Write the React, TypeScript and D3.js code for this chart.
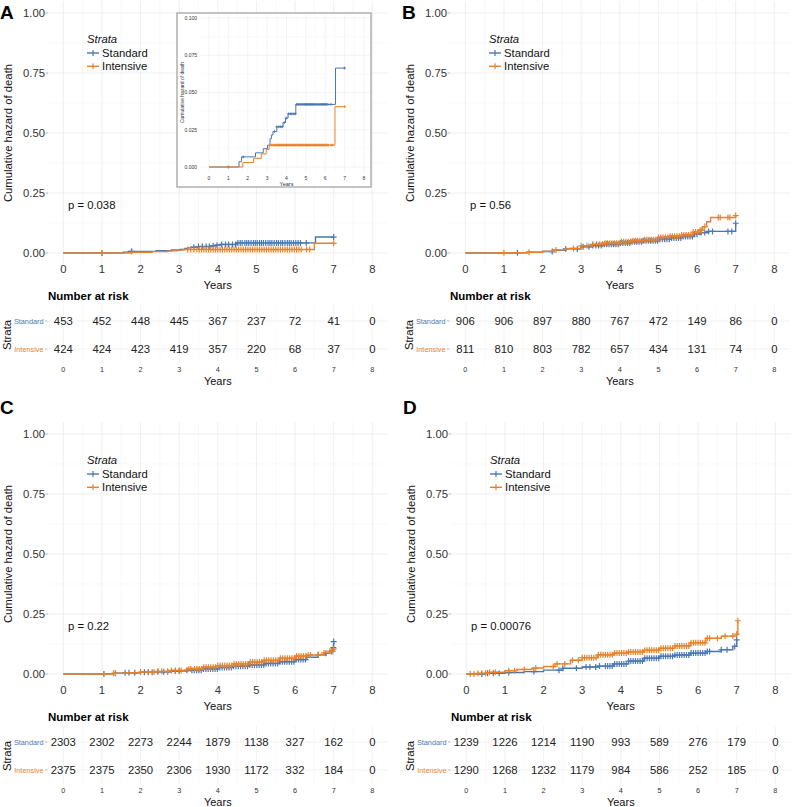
import React from "react";
import * as d3 from "d3";

const FONT = "'Liberation Sans', Arial, Helvetica, sans-serif";
const BLUE = "#4A77B4";
const ORANGE = "#E8822A";

const yearTicks = [0, 1, 2, 3, 4, 5, 6, 7, 8];
const yTicks = [0, 0.25, 0.5, 0.75, 1];
const insetYTicks = [0, 0.025, 0.05, 0.075, 0.1];
const strataNames = ["Standard", "Intensive"];
const panelLetters = ["A", "B", "C", "D"];
const pValues = ["p = 0.038", "p = 0.56", "p = 0.22", "p = 0.00076"];

// Panel A
const aStdTime = [0, 1.55, 1.68, 2.4, 2.8, 3.02, 3.15, 3.22, 3.3, 3.5, 3.82, 3.95, 4.08, 4.48, 6.53, 7.0];
const aStdHaz = [0, 0.0035, 0.0068, 0.0095, 0.0123, 0.0146, 0.019, 0.0215, 0.0238, 0.027, 0.0298, 0.0328, 0.0357, 0.042, 0.0664, 0.0664];
const aStdCensor = [1.0, 1.77, 3.38, 3.5, 3.6, 3.7, 3.78, 3.88, 3.98, 4.1, 4.2, 4.28, 4.38, 4.46, 4.52, 4.58, 4.63, 4.7, 4.75, 4.8, 4.86, 4.92, 4.97, 5.02, 5.08, 5.13, 5.18, 5.24, 5.3, 5.35, 5.4, 5.46, 5.52, 5.57, 5.63, 5.68, 5.74, 5.8, 5.85, 5.9, 5.96, 6.02, 6.08, 6.14, 6.29, 7.0];
const aIntTime = [0, 1.75, 2.3, 2.7, 2.95, 3.1, 6.5, 7.0];
const aIntHaz = [0, 0.003, 0.0058, 0.0088, 0.0118, 0.0147, 0.0405, 0.0405];
const aIntCensor = [1.0, 3.22, 3.3, 3.38, 3.46, 3.52, 3.58, 3.64, 3.7, 3.76, 3.82, 3.88, 3.94, 4.0, 4.06, 4.12, 4.18, 4.24, 4.3, 4.36, 4.42, 4.48, 4.54, 4.6, 4.66, 4.72, 4.78, 4.84, 4.9, 4.96, 5.02, 5.08, 5.14, 5.2, 5.26, 5.32, 5.38, 5.44, 5.5, 5.56, 5.62, 5.68, 5.74, 5.8, 5.86, 5.92, 5.98, 6.04, 6.1, 6.16, 6.3, 6.38, 7.0];
const aStdRisk = [453, 452, 448, 445, 367, 237, 72, 41, 0];
const aIntRisk = [424, 424, 423, 419, 357, 220, 68, 37, 0];

// Panel B
const bStdTime = [0, 1.3, 1.6, 2.0, 2.3, 2.6, 3.0, 3.3, 3.6, 4.0, 4.3, 4.6, 5.0, 5.3, 5.6, 5.9, 6.1, 6.3, 7.0];
const bStdHaz = [0, 0.001, 0.003, 0.006, 0.011, 0.017, 0.026, 0.031, 0.036, 0.042, 0.047, 0.051, 0.057, 0.063, 0.069, 0.078, 0.085, 0.09, 0.124];
const bStdCensor = [1.35, 2.25, 2.6, 2.9, 3.05, 3.2, 3.3, 3.38, 3.45, 3.52, 3.6, 3.66, 3.72, 3.78, 3.84, 3.9, 3.96, 4.02, 4.08, 4.14, 4.2, 4.26, 4.32, 4.38, 4.44, 4.5, 4.56, 4.62, 4.68, 4.74, 4.8, 4.86, 4.92, 4.98, 5.04, 5.1, 5.16, 5.22, 5.28, 5.34, 5.4, 5.46, 5.52, 5.58, 5.64, 5.7, 5.76, 5.82, 5.88, 5.94, 6.0, 6.1, 6.2, 6.3, 6.4, 6.8, 6.9, 7.0];
const bIntTime = [0, 1.0, 1.6, 2.0, 2.3, 2.6, 3.0, 3.3, 3.6, 4.0, 4.3, 4.6, 5.0, 5.3, 5.6, 5.9, 6.05, 6.15, 6.25, 6.35, 7.0];
const bIntHaz = [0, 0.001, 0.003, 0.007, 0.013, 0.019, 0.03, 0.036, 0.041, 0.047, 0.051, 0.055, 0.065, 0.07, 0.075, 0.087, 0.095, 0.11, 0.13, 0.148, 0.156];
const bIntCensor = [1.0, 1.65, 2.35, 2.8, 3.0, 3.15, 3.3, 3.4, 3.48, 3.55, 3.62, 3.68, 3.74, 3.8, 3.86, 3.92, 3.98, 4.04, 4.1, 4.16, 4.22, 4.28, 4.34, 4.4, 4.46, 4.52, 4.58, 4.64, 4.7, 4.76, 4.82, 4.88, 4.94, 5.0, 5.06, 5.12, 5.18, 5.24, 5.3, 5.36, 5.42, 5.48, 5.54, 5.6, 5.66, 5.72, 5.78, 5.84, 5.9, 5.96, 6.02, 6.08, 6.12, 6.2, 6.55, 6.6, 6.8, 6.85, 7.0];
const bStdRisk = [906, 906, 897, 880, 767, 472, 149, 86, 0];
const bIntRisk = [811, 810, 803, 782, 657, 434, 131, 74, 0];

// Panel C
const cStdTime = [0, 1.1, 1.3, 1.6, 2.0, 2.4, 2.8, 3.2, 3.6, 4.0, 4.4, 4.8, 5.2, 5.6, 6.0, 6.3, 6.6, 6.8, 6.9, 6.97, 7.0];
const cStdHaz = [0, 0.001, 0.003, 0.005, 0.007, 0.009, 0.012, 0.016, 0.021, 0.027, 0.032, 0.038, 0.044, 0.051, 0.06, 0.07, 0.08, 0.086, 0.094, 0.11, 0.135];
const cStdCensor = [1.05, 1.35, 1.6, 1.7, 1.85, 2.1, 2.2, 2.3, 2.45, 2.6, 2.7, 2.9, 3.0, 3.2, 3.33, 3.39, 3.45, 3.51, 3.57, 3.63, 3.69, 3.75, 3.81, 3.87, 3.93, 3.99, 4.05, 4.11, 4.17, 4.23, 4.29, 4.35, 4.41, 4.47, 4.53, 4.59, 4.65, 4.71, 4.77, 4.83, 4.89, 4.95, 5.01, 5.07, 5.13, 5.19, 5.25, 5.31, 5.37, 5.43, 5.49, 5.55, 5.61, 5.67, 5.73, 5.79, 5.85, 5.91, 5.97, 6.03, 6.09, 6.15, 6.21, 6.27, 6.6, 6.8, 6.95, 6.99, 7.0];
const cIntTime = [0, 1.3, 1.6, 2.0, 2.4, 2.8, 3.2, 3.6, 4.0, 4.4, 4.8, 5.2, 5.6, 6.0, 6.3, 6.6, 6.75, 6.9, 7.0];
const cIntHaz = [0, 0.003, 0.005, 0.008, 0.011, 0.015, 0.021, 0.028, 0.035, 0.042, 0.05, 0.057, 0.066, 0.075, 0.079, 0.081, 0.088, 0.095, 0.104];
const cIntCensor = [1.05, 1.3, 1.35, 2.0, 2.2, 2.35, 2.45, 2.55, 2.7, 2.8, 2.9, 3.0, 3.05, 3.25, 3.3, 3.4, 3.46, 3.52, 3.58, 3.64, 3.7, 3.76, 3.82, 3.88, 3.94, 4.0, 4.06, 4.12, 4.18, 4.24, 4.3, 4.36, 4.42, 4.48, 4.54, 4.6, 4.66, 4.72, 4.78, 4.84, 4.9, 4.96, 5.02, 5.08, 5.14, 5.2, 5.26, 5.32, 5.38, 5.44, 5.5, 5.56, 5.62, 5.68, 5.74, 5.8, 5.86, 5.92, 5.98, 6.04, 6.1, 6.16, 6.22, 6.28, 6.34, 6.4, 6.6, 6.75, 6.9, 6.98, 7.0];
const cStdRisk = [2303, 2302, 2273, 2244, 1879, 1138, 327, 162, 0];
const cIntRisk = [2375, 2375, 2350, 2306, 1930, 1172, 332, 184, 0];

// Panel D
const dStdTime = [0, 0.5, 1.0, 1.5, 2.0, 2.5, 3.0, 3.4, 3.8, 4.2, 4.6, 5.0, 5.4, 5.8, 6.2, 6.6, 6.9, 7.0];
const dStdHaz = [0, 0.003, 0.006, 0.01, 0.016, 0.024, 0.029, 0.033, 0.042, 0.054, 0.066, 0.074, 0.079, 0.087, 0.094, 0.101, 0.115, 0.142];
const dStdCensor = [0.4, 0.55, 0.7, 0.85, 1.1, 1.75, 2.4, 2.5, 2.85, 3.1, 3.2, 3.35, 3.45, 3.6, 3.66, 3.72, 3.78, 3.84, 3.9, 3.96, 4.02, 4.08, 4.14, 4.2, 4.26, 4.32, 4.38, 4.44, 4.5, 4.56, 4.62, 4.68, 4.74, 4.8, 4.86, 4.92, 4.98, 5.04, 5.1, 5.16, 5.22, 5.28, 5.34, 5.4, 5.46, 5.52, 5.58, 5.64, 5.7, 5.76, 5.82, 5.88, 5.94, 6.0, 6.06, 6.12, 6.18, 6.24, 6.3, 6.6, 6.75, 6.95, 7.0];
const dIntTime = [0, 0.3, 0.6, 1.0, 1.3, 1.7, 2.0, 2.3, 2.7, 3.0, 3.4, 3.8, 4.2, 4.6, 5.0, 5.4, 5.8, 6.2, 6.6, 7.0, 7.03];
const dIntHaz = [0, 0.003, 0.007, 0.014, 0.019, 0.025, 0.031, 0.042, 0.057, 0.068, 0.08, 0.087, 0.092, 0.099, 0.107, 0.117, 0.13, 0.149, 0.158, 0.166, 0.222];
const dIntCensor = [0.1, 0.2, 0.3, 0.4, 0.5, 0.6, 0.75, 1.1, 1.25, 1.5, 1.8, 2.25, 2.35, 2.55, 2.75, 2.9, 3.0, 3.06, 3.12, 3.18, 3.24, 3.3, 3.36, 3.42, 3.48, 3.54, 3.6, 3.66, 3.72, 3.78, 3.84, 3.9, 3.96, 4.02, 4.08, 4.14, 4.2, 4.26, 4.32, 4.38, 4.44, 4.5, 4.56, 4.62, 4.68, 4.74, 4.8, 4.86, 4.92, 4.98, 5.04, 5.1, 5.16, 5.22, 5.28, 5.34, 5.4, 5.46, 5.52, 5.58, 5.64, 5.7, 5.76, 5.82, 5.88, 5.94, 6.0, 6.06, 6.12, 6.18, 6.24, 6.3, 6.5, 6.7, 6.9, 7.0, 7.03];
const dStdRisk = [1239, 1226, 1214, 1190, 993, 589, 276, 179, 0];
const dIntRisk = [1290, 1268, 1232, 1179, 984, 586, 252, 185, 0];

type Series = { time: number[]; haz: number[]; censor: number[]; color: string };

const panels = [
  { ox: 0, oy: 0, letterY: 19, letter: panelLetters[0], p: pValues[0], inset: true,
    series: [
      { time: aStdTime, haz: aStdHaz, censor: aStdCensor, color: BLUE },
      { time: aIntTime, haz: aIntHaz, censor: aIntCensor, color: ORANGE },
    ], risk: [aStdRisk, aIntRisk] },
  { ox: 402, oy: 0, letterY: 19, letter: panelLetters[1], p: pValues[1], inset: false,
    series: [
      { time: bStdTime, haz: bStdHaz, censor: bStdCensor, color: BLUE },
      { time: bIntTime, haz: bIntHaz, censor: bIntCensor, color: ORANGE },
    ], risk: [bStdRisk, bIntRisk] },
  { ox: 0, oy: 421, letterY: 414, letter: panelLetters[2], p: pValues[2], inset: false,
    series: [
      { time: cStdTime, haz: cStdHaz, censor: cStdCensor, color: BLUE },
      { time: cIntTime, haz: cIntHaz, censor: cIntCensor, color: ORANGE },
    ], risk: [cStdRisk, cIntRisk] },
  { ox: 403, oy: 421, letterY: 414, letter: panelLetters[3], p: pValues[3], inset: false,
    series: [
      { time: dStdTime, haz: dStdHaz, censor: dStdCensor, color: BLUE },
      { time: dIntTime, haz: dIntHaz, censor: dIntCensor, color: ORANGE },
    ], risk: [dStdRisk, dIntRisk] },
];

function hazAt(s: Series, t: number) {
  const i = Math.max(0, d3.bisectRight(s.time, t) - 1);
  return s.haz[i];
}

function Curves({ series, x, y, mark, sw }: any) {
  const line = d3
    .line<[number, number]>()
    .curve(d3.curveStepAfter)
    .x((d) => x(d[0]))
    .y((d) => y(d[1]));
  return (
    <g>
      {series.map((s: Series, k: number) => {
        const pts = d3.zip(s.time, s.haz) as [number, number][];
        const marks = s.censor
          .map((t) => {
            const cx = x(t);
            const cy = y(hazAt(s, t));
            return `M${cx - mark},${cy}h${2 * mark}M${cx},${cy - mark}v${2 * mark}`;
          })
          .join("");
        return (
          <g key={k}>
            <path d={line(pts) || ""} fill="none" stroke={s.color} strokeWidth={sw} />
            <path d={marks} fill="none" stroke={s.color} strokeWidth={sw * 0.85} />
          </g>
        );
      })}
    </g>
  );
}

function Inset({ series }: any) {
  const x = d3.scaleLinear().domain([0, 8]).range([209, 364]);
  const y = d3.scaleLinear().domain([0, 0.1]).range([167, 18]);
  const gx0 = 201, gx1 = 370, gy0 = 15, gy1 = 172;
  const minorX = d3.range(0, 8, 1).map((v) => v + 0.5);
  const minorY = [0.0125, 0.0375, 0.0625, 0.0875];
  return (
    <g>
      <rect x={177} y={13} width={194} height={174} fill="#fff" stroke="#ABABAB" strokeWidth={1.4} />
      {minorX.map((v) => (
        <line key={"mx" + v} x1={x(v)} x2={x(v)} y1={gy0} y2={gy1} stroke="#F4F4F4" strokeWidth={0.5} />
      ))}
      {minorY.map((v) => (
        <line key={"my" + v} x1={gx0} x2={gx1} y1={y(v)} y2={y(v)} stroke="#F4F4F4" strokeWidth={0.5} />
      ))}
      {yearTicks.map((v) => (
        <line key={"x" + v} x1={x(v)} x2={x(v)} y1={gy0} y2={gy1} stroke="#EBEBEB" strokeWidth={0.6} />
      ))}
      {insetYTicks.map((v) => (
        <line key={"y" + v} x1={gx0} x2={gx1} y1={y(v)} y2={y(v)} stroke="#EBEBEB" strokeWidth={0.6} />
      ))}
      {insetYTicks.map((v) => (
        <text key={"yl" + v} x={197} y={y(v) + 1.8} fontSize={5} textAnchor="end" fill="#333" fontFamily={FONT}>
          {v.toFixed(3)}
        </text>
      ))}
      {yearTicks.map((v) => (
        <text key={"xl" + v} x={x(v)} y={180} fontSize={5} textAnchor="middle" fill="#333" fontFamily={FONT}>
          {v}
        </text>
      ))}
      <text x={(x(0) + x(8)) / 2} y={186} fontSize={5.5} textAnchor="middle" fill="#333" fontFamily={FONT}>
        Years
      </text>
      <text transform={`translate(183.5,${(y(0) + y(0.1)) / 2}) rotate(-90)`} fontSize={5} textAnchor="middle" fill="#333" fontFamily={FONT}>
        Cumulative hazard of death
      </text>
      <Curves series={series} x={x} y={y} mark={1.4} sw={1} />
    </g>
  );
}

function Panel({ cfg }: any) {
  const { ox, oy, letter, letterY, p, series, risk, inset } = cfg;
  const x = d3.scaleLinear().domain([0, 8]).range([ox + 63.3, ox + 372.3]);
  const y = d3.scaleLinear().domain([0, 1]).range([oy + 253, oy + 13]);
  const px0 = ox + 48, px1 = ox + 388, py0 = oy + 1, py1 = oy + 265;
  const minorX = d3.range(0, 8, 1).map((v) => v + 0.5);
  const minorY = [0.125, 0.375, 0.625, 0.875];
  const rowY = [oy + 321, oy + 349];
  const ry0 = oy + 305, ry1 = oy + 363;
  const legendX = ox + 87;
  return (
    <g fontFamily={FONT}>
      <text x={ox} y={letterY} fontSize={19} fontWeight="bold" fill="#000">
        {letter}
      </text>
      {/* grid */}
      {minorX.map((v) => (
        <line key={"mx" + v} x1={x(v)} x2={x(v)} y1={py0} y2={py1} stroke="#F4F4F4" strokeWidth={0.6} />
      ))}
      {minorY.map((v) => (
        <line key={"my" + v} x1={px0} x2={px1} y1={y(v)} y2={y(v)} stroke="#F4F4F4" strokeWidth={0.6} />
      ))}
      {yearTicks.map((v) => (
        <line key={"x" + v} x1={x(v)} x2={x(v)} y1={py0} y2={py1} stroke="#EBEBEB" strokeWidth={0.8} />
      ))}
      {yTicks.map((v) => (
        <line key={"y" + v} x1={px0} x2={px1} y1={y(v)} y2={y(v)} stroke="#EBEBEB" strokeWidth={0.8} />
      ))}
      {/* y axis */}
      {yTicks.map((v) => (
        <g key={"yt" + v}>
          <line x1={ox + 45.5} x2={ox + 48} y1={y(v)} y2={y(v)} stroke="#888" strokeWidth={0.6} />
          <text x={ox + 45} y={y(v) + 4} fontSize={11.3} textAnchor="end" fill="#333">
            {v.toFixed(2)}
          </text>
        </g>
      ))}
      <text transform={`translate(${ox + 12},${(y(0) + y(1)) / 2}) rotate(-90)`} fontSize={11.3} textAnchor="middle" fill="#111">
        Cumulative hazard of death
      </text>
      {yearTicks.map((v) => (
        <text key={"xt" + v} x={x(v)} y={oy + 273} fontSize={11.3} textAnchor="middle" fill="#333">
          {v}
        </text>
      ))}
      <text x={(x(0) + x(8)) / 2} y={oy + 289} fontSize={11.3} textAnchor="middle" fill="#111">
        Years
      </text>
      {/* legend */}
      <text x={legendX} y={oy + 43} fontSize={11.3} fontStyle="italic" fill="#111">
        Strata
      </text>
      {strataNames.map((name, i) => {
        const ly = oy + 53 + i * 13.3;
        const col = i === 0 ? BLUE : ORANGE;
        return (
          <g key={name}>
            <line x1={legendX} x2={legendX + 12} y1={ly} y2={ly} stroke={col} strokeWidth={1.4} />
            <line x1={legendX + 6} x2={legendX + 6} y1={ly - 3} y2={ly + 3} stroke={col} strokeWidth={1.2} />
            <text x={legendX + 15} y={ly + 4} fontSize={11.3} fill="#111">
              {name}
            </text>
          </g>
        );
      })}
      <text x={ox + 68} y={oy + 209} fontSize={11.3} fill="#111">
        {p}
      </text>
      <Curves series={series} x={x} y={y} mark={3} sw={1.4} />
      {inset && <Inset series={series} />}
      {/* risk table */}
      <text x={ox + 48} y={oy + 300} fontSize={11.5} fontWeight="bold" fill="#000">
        Number at risk
      </text>
      {minorX.map((v) => (
        <line key={"rmx" + v} x1={x(v)} x2={x(v)} y1={ry0} y2={ry1} stroke="#F6F6F6" strokeWidth={0.6} />
      ))}
      {yearTicks.map((v) => (
        <line key={"rx" + v} x1={x(v)} x2={x(v)} y1={ry0} y2={ry1} stroke="#EFEFEF" strokeWidth={0.8} />
      ))}
      {rowY.map((ry, i) => (
        <line key={"ry" + i} x1={px0} x2={px1} y1={ry} y2={ry} stroke="#EFEFEF" strokeWidth={0.8} />
      ))}
      {strataNames.map((name, i) => (
        <g key={"rl" + name}>
          <text x={ox + 43.5} y={rowY[i] + 2.6} fontSize={7.3} textAnchor="end" fill={i === 0 ? BLUE : ORANGE}>
            {name}
          </text>
          <line x1={ox + 45} x2={ox + 47.5} y1={rowY[i]} y2={rowY[i]} stroke="#888" strokeWidth={0.6} />
        </g>
      ))}
      {risk.map((row: number[], i: number) =>
        row.map((n, j) => (
          <text key={`r${i}-${j}`} x={x(yearTicks[j])} y={rowY[i] + 4} fontSize={11.3} textAnchor="middle" fill="#222">
            {n}
          </text>
        ))
      )}
      <text transform={`translate(${ox + 11},${(rowY[0] + rowY[1]) / 2}) rotate(-90)`} fontSize={11.3} textAnchor="middle" fill="#111">
        Strata
      </text>
      {yearTicks.map((v) => (
        <text key={"rxt" + v} x={x(v)} y={oy + 371.5} fontSize={7.3} textAnchor="middle" fill="#333">
          {v}
        </text>
      ))}
      <text x={(x(0) + x(8)) / 2} y={oy + 384.5} fontSize={11} textAnchor="middle" fill="#111">
        Years
      </text>
    </g>
  );
}

export default function App() {
  return (
    <svg
      width={793}
      height={807}
      style={{ position: "absolute", left: 0, top: 0, background: "#fff" }}
    >
      <rect x={0} y={0} width={793} height={807} fill="#fff" />
      {panels.map((cfg, i) => (
        <Panel key={i} cfg={cfg} />
      ))}
    </svg>
  );
}
